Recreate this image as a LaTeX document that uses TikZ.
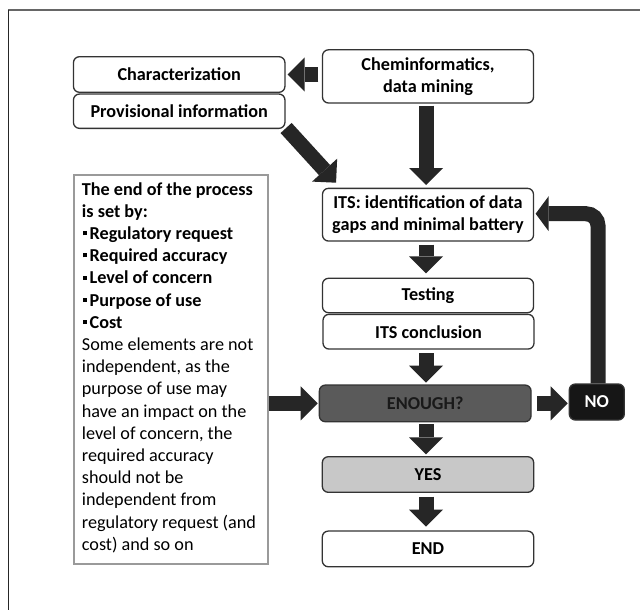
\documentclass[tikz,border=0pt]{standalone}
\usepackage{fontspec}
\setmainfont{Carlito}
\usetikzlibrary{arrows.meta}
\definecolor{arrowc}{HTML}{262626}
\definecolor{boxc}{HTML}{333333}
\definecolor{notec}{HTML}{9A9A9A}
\definecolor{enoughc}{HTML}{5A5A5A}
\definecolor{noc}{HTML}{161616}
\definecolor{yesc}{HTML}{C8C8C8}
\newcommand{\sqbul}{\hspace{1.3pt}\raisebox{4.3pt}{\rule{4pt}{4pt}}\hspace{2.5pt}}
\begin{document}
\begin{tikzpicture}[x=1pt,y=-1pt,
  box/.style={draw=boxc, line width=1.3pt, rounded corners=6pt, fill=white,
    inner sep=0pt, minimum width=211pt, align=center, text=black,
    font=\bfseries\fontsize{18.2}{22.2}\selectfont},
  blk/.style={draw=arrowc, line width=15pt,
    -{Triangle[length=17pt,width=34pt,line width=0pt]}},
  loopblk/.style={draw=arrowc, line width=15pt, rounded corners=12pt,
    -{Triangle[length=13pt,width=35pt,line width=0pt]}}]
\useasboundingbox (0,0) rectangle (640,610);
\fill[white] (0,0) rectangle (640,610);
% frame lines
\draw[color=gray!80!black, line width=1.7pt] (8,10) -- (640,10);
\draw[color=black!85, line width=1.3pt] (8.7,10) -- (8.7,610);

% nodes
\node[box, minimum width=211.5pt, minimum height=35.6pt] (char) at (179.2,74.5) {Characterization};
\node[box, minimum width=211.5pt, minimum height=34.3pt] (prov) at (179.2,111.2) {Provisional information};
\node[box, minimum height=53.2pt] (chem) at (428,76.4) {Cheminformatics,\\data mining};
\node[box, minimum height=52.7pt] (its) at (428,214.7) {ITS: identification of data\\gaps and minimal battery};
\node[box, minimum height=34.4pt] (test) at (428,295.5) {Testing};
\node[box, minimum height=34.7pt] (concl) at (428.5,331.7) {ITS conclusion};
\node[box, fill=enoughc, text=black!90, minimum width=211.7pt, minimum height=36.7pt] (enough) at (425.2,403.4) {ENOUGH?};
\node[box, fill=noc, text=white, minimum width=55pt, minimum height=36pt] (no) at (596.8,402) {NO};
\node[box, fill=yesc, minimum width=211.4pt, minimum height=35.6pt] (yes) at (428,474.5) {YES};
\node[box, minimum width=211.4pt, minimum height=35.7pt] (end) at (428,548.9) {END};

\node[draw=notec, line width=1.5pt, anchor=north west, inner sep=0pt,
  minimum width=193.9pt, minimum height=389.2pt] (note) at (73.4,174.2) {};
\node[anchor=north west, inner sep=0pt, align=left,
  font=\fontsize{18.2}{22.2}\selectfont] (notetext) at ([shift={(8.3,8)}]note.north west)
  {\textbf{The end of the process}\\
   \textbf{is set by:}\\
   \sqbul\textbf{Regulatory request}\\
   \sqbul\textbf{Required accuracy}\\
   \sqbul\textbf{Level of concern}\\
   \sqbul\textbf{Purpose of use}\\
   \sqbul\textbf{Cost}\\
   Some elements are not\\
   independent, as the\\
   purpose of use may\\
   have an impact on the\\
   level of concern, the\\
   required accuracy\\
   should not be\\
   independent from\\
   regulatory request (and\\
   cost) and so on};

% connectors
\draw[blk, shorten <=3.5pt, shorten >=2pt] (chem.west |- char.east) -- (char.east);
\draw[blk, shorten <=2pt, shorten >=2.7pt] ([xshift=-2pt]chem.south) -- ([xshift=-2pt]its.north);
\draw[blk] ([shift={(0.5,-1)}]prov.south east) -- ([shift={(14.2,-5)}]its.north west);
\draw[blk, shorten <=3pt, shorten >=4.3pt] ([xshift=-2pt]its.south) -- ([xshift=-2pt]test.north);
\draw[blk, shorten <=3.7pt, shorten >=1.7pt] ([xshift=-2.5pt]concl.south) -- ([xshift=-2.5pt]concl.south |- enough.north);
\draw[blk, shorten <=1.6pt, shorten >=1.7pt] ([xshift=-2pt]yes.north |- enough.south) -- ([xshift=-2pt]yes.north);
\draw[blk, shorten <=3.7pt, shorten >=3.7pt] ([xshift=-2pt]yes.south) -- ([xshift=-2pt]end.north);
\draw[blk, shorten >=1pt] (note.east |- enough.west) -- (enough.west);
\draw[blk, shorten <=5.7pt, shorten >=1pt] (enough.east) -- (no.west |- enough.east);
\draw[loopblk, shorten >=1.5pt] ([xshift=1.2pt]no.north) |- ([yshift=1pt]its.east);
\end{tikzpicture}
\end{document}
